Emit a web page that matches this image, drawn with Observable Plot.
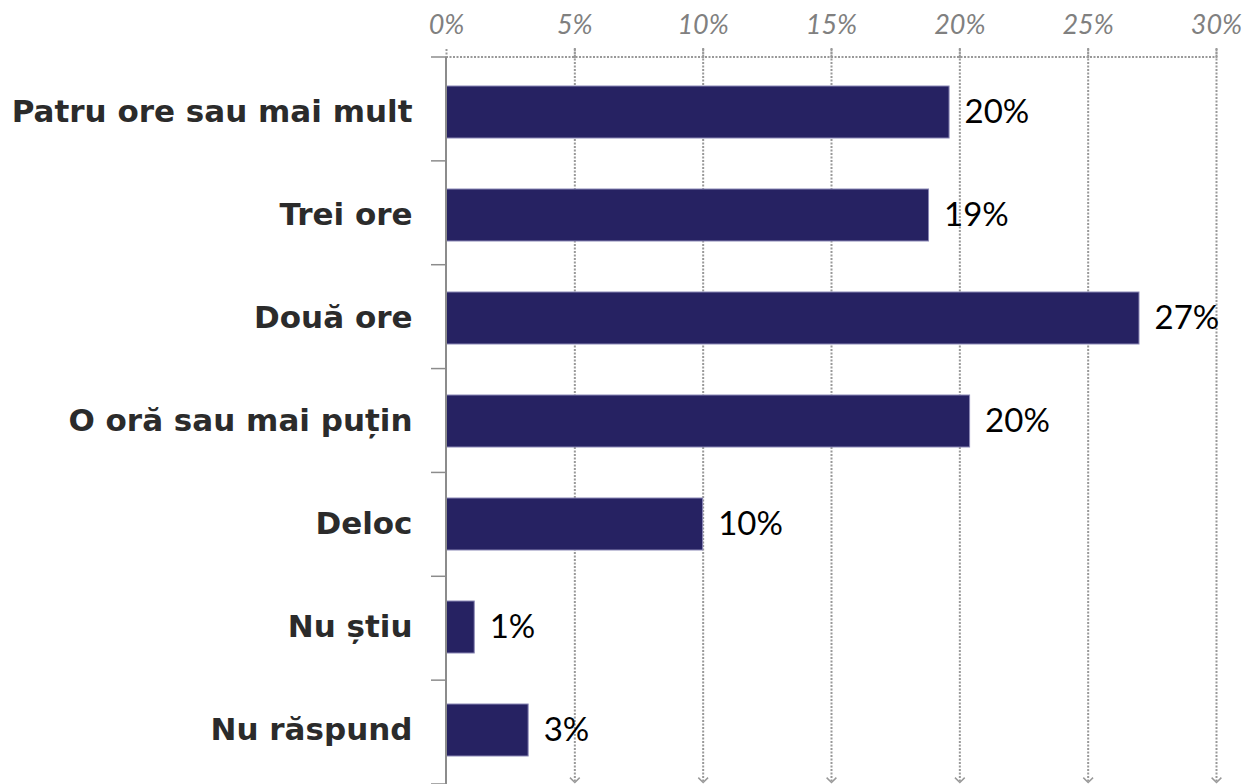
<!DOCTYPE html>
<html>
<head>
<meta charset="utf-8">
<script src="https://cdn.jsdelivr.net/npm/d3@7"></script>
<script src="https://cdn.jsdelivr.net/npm/@observablehq/plot@0.6"></script>
<style>
  html, body { margin: 0; padding: 0; background: #fff; }
  #chart svg { display: block; }
</style>
</head>
<body>
<div id="chart"></div>
<script>
const categories = ["Patru ore sau mai mult", "Trei ore", "Două ore", "O oră sau mai puțin", "Deloc", "Nu știu", "Nu răspund"];
const values = [19.6, 18.8, 27.0, 20.4, 10.0, 1.1, 3.2];
const valueLabels = ["20%", "19%", "27%", "20%", "10%", "1%", "3%"];
const xTicks = [0, 5, 10, 15, 20, 25, 30];
const xTickLabels = ["0%", "5%", "10%", "15%", "20%", "25%", "30%"];

const data = categories.map((c, i) => ({cat: c, value: values[i], label: valueLabels[i]}));

const gridColor = "#999999";
const axisColor = "#8c8c8c";

const chevron = {
  draw(ctx, size) {
    const r = Math.sqrt(size) / 2;
    ctx.moveTo(-r, -r);
    ctx.lineTo(0, 0);
    ctx.lineTo(r, -r);
  }
};

function decor(index, scales, values, dims) {
  const g = d3.create("svg:g");
  const x0 = scales.x(xTicks[0]);
  const x1 = scales.x(xTicks[xTicks.length - 1]);
  const top = dims.marginTop;
  const bottom = dims.height - dims.marginBottom;
  const step = (bottom - top) / categories.length;
  g.append("line")
    .attr("x1", x0).attr("x2", x1).attr("y1", top).attr("y2", top)
    .attr("stroke", gridColor).attr("stroke-width", 2).attr("stroke-dasharray", "2 1.5");
  g.append("line")
    .attr("x1", x0).attr("x2", x0).attr("y1", top).attr("y2", bottom)
    .attr("stroke", axisColor).attr("stroke-width", 2);
  for (let i = 0; i <= categories.length; i++) {
    const yy = top + i * step;
    g.append("line")
      .attr("x1", x0 - 15).attr("x2", x0).attr("y1", yy).attr("y2", yy)
      .attr("stroke", axisColor).attr("stroke-width", 1.5);
  }
  return g.node();
}

const chart = Plot.plot({
  width: 1242,
  height: 784,
  marginLeft: 446,
  marginRight: 26,
  marginTop: 57,
  marginBottom: 0,
  x: {domain: [0, 30]},
  y: {domain: categories, paddingInner: 0.5, paddingOuter: 0.25},
  marks: [
    Plot.ruleX(xTicks.slice(1), {
      x: d => d, stroke: gridColor, strokeWidth: 2, strokeDasharray: "2 1.5", insetTop: -9, insetBottom: 3
    }),
    Plot.dot(xTicks.slice(1), {
      x: d => d, frameAnchor: "bottom", dy: -2, symbol: chevron, r: 5.5, stroke: gridColor, strokeWidth: 1.5, fill: "none"
    }),
    Plot.axisX(xTicks, {
      anchor: "top", tickSize: 9, tickPadding: 15,
      stroke: gridColor, strokeWidth: 2, strokeDasharray: "2 1.5",
      tickFormat: d => xTickLabels[xTicks.indexOf(d)],
      fontSize: 27, fontStyle: "italic", fill: "#808080", fontFamily: "Lato", label: null
    }),
    Plot.barX(data, {x: "value", y: "cat", fill: "#262262", stroke: "#8a87b5", strokeWidth: 1}),
    decor,
    Plot.axisY({
      tickSize: 0, tickPadding: 34, fontSize: 31, fontWeight: "bold",
      fill: "#2b2b2b", fontFamily: "DejaVu Sans", label: null
    }),
    Plot.text(data, {
      x: "value", y: "cat", text: "label", dx: 15, textAnchor: "start",
      fontSize: 33, fill: "#000", fontFamily: "Lato"
    })
  ]
});

document.getElementById("chart").appendChild(chart);
</script>
</body>
</html>
